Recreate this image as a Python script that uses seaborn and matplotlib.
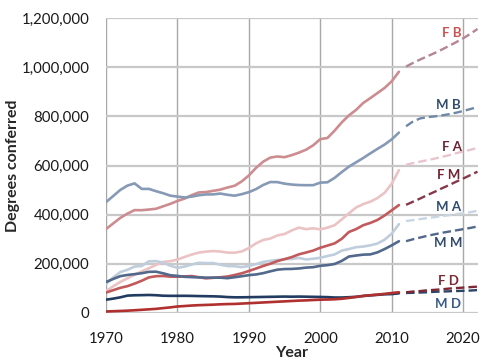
import numpy as np
import pandas as pd
import matplotlib
matplotlib.use('Agg')
import matplotlib.pyplot as plt
import seaborn as sns

# degrees conferred, thousands; x = end year of academic year
years = list(range(1970, 2012))
proj_years = list(range(2011, 2023))

m_bach = [451.1, 475.6, 500.6, 518.2, 527.3, 504.8, 504.9, 495.5, 487.3, 477.3,
          473.6, 469.9, 473.4, 479.1, 482.3, 482.5, 485.9, 480.8, 477.2, 483.3,
          491.7, 504.0, 520.8, 532.9, 532.4, 526.1, 522.5, 520.5, 520.0, 520.0,
          530.4, 531.8, 549.8, 573.3, 595.4, 613.0, 630.6, 649.6, 667.9, 685.4,
          706.7, 734.2]
f_bach = [341.2, 364.1, 386.7, 404.2, 418.5, 418.1, 420.8, 424.0, 433.9, 444.0,
          455.8, 465.3, 479.6, 490.4, 492.0, 496.9, 501.9, 510.5, 517.6, 535.4,
          559.6, 590.5, 615.7, 632.3, 636.9, 634.0, 642.3, 652.4, 664.5, 682.3,
          707.5, 712.3, 742.1, 775.6, 804.1, 826.3, 854.6, 874.5, 895.1, 916.0,
          943.1, 981.9]
m_assoc = [117.4, 144.1, 166.2, 175.4, 188.6, 191.0, 210.0, 210.8, 204.7, 192.1,
           183.7, 188.6, 196.9, 204.0, 202.7, 202.9, 196.2, 190.8, 190.0, 186.3,
           191.2, 198.6, 207.5, 212.0, 215.3, 218.4, 219.5, 223.9, 217.6, 220.5,
           224.7, 231.6, 238.1, 253.5, 260.0, 267.5, 270.1, 275.2, 282.5, 298.1,
           322.7, 361.3]
f_assoc = [88.6, 108.2, 125.8, 140.8, 155.3, 169.2, 181.5, 195.5, 207.5, 210.6,
           217.2, 227.7, 237.6, 245.6, 249.5, 251.8, 249.9, 245.5, 245.0, 250.4,
           263.9, 283.1, 296.8, 302.8, 315.4, 321.3, 335.7, 347.3, 340.9, 344.5,
           340.2, 347.2, 357.0, 380.6, 405.3, 429.1, 443.0, 452.9, 467.6, 489.1,
           526.1, 581.0]
m_mast = [125.6, 138.1, 149.6, 154.5, 157.8, 161.6, 167.2, 167.8, 161.2, 153.4,
          150.7, 147.0, 145.5, 144.7, 143.6, 143.4, 143.5, 141.3, 145.2, 149.4,
          153.7, 156.5, 161.8, 169.3, 176.1, 178.6, 179.1, 180.9, 184.4, 186.1,
          191.8, 194.4, 199.1, 211.7, 229.5, 233.6, 237.2, 238.2, 246.5, 260.0,
          275.2, 291.7]
f_mast = [82.7, 92.4, 102.1, 108.9, 119.2, 130.9, 144.5, 149.4, 150.4, 147.7,
          147.3, 148.7, 150.0, 145.2, 140.7, 142.9, 145.1, 148.1, 154.2, 161.3,
          170.6, 180.7, 191.0, 200.3, 211.0, 219.0, 227.2, 238.5, 245.8, 253.8,
          265.3, 274.1, 283.0, 301.7, 329.4, 341.0, 356.9, 366.4, 378.5, 396.8,
          417.8, 439.0]
m_doc = [53.8, 58.1, 63.4, 70.4, 71.8, 72.3, 73.0, 72.0, 70.0, 69.5,
         69.5, 69.6, 69.2, 68.5, 68.0, 67.5, 66.5, 64.5, 63.5, 63.5,
         64.0, 64.5, 65.0, 65.5, 66.0, 66.5, 66.0, 66.5, 66.0, 65.5,
         64.9, 64.2, 62.7, 62.7, 63.9, 65.5, 68.9, 71.3, 73.5, 75.7,
         76.6, 79.7]
f_doc = [5.7, 6.9, 7.9, 9.1, 10.8, 12.6, 14.5, 16.5, 19.5, 22.5,
         26.1, 28.0, 30.0, 31.5, 32.5, 33.5, 35.0, 36.0, 36.5, 38.0,
         39.5, 41.0, 42.5, 44.0, 45.5, 47.0, 48.5, 50.0, 51.0, 52.5,
         53.8, 54.5, 55.5, 57.5, 61.0, 65.0, 69.1, 72.0, 74.5, 77.5,
         81.0, 84.2]

# projections (dashed); 2011 left empty so the dashes start after a small gap
f_bach_p = [None, 1003, 1018, 1032, 1045, 1058, 1072, 1087, 1102, 1118, 1136, 1156]
m_bach_p = [None, 760, 780, 792, 797, 800, 804, 809, 815, 822, 830, 838]
f_assoc_p = [None, 603, 610, 616, 622, 628, 635, 642, 650, 657, 664, 672]
f_mast_p = [None, 440, 453, 466, 480, 493, 507, 520, 534, 547, 561, 575]
m_assoc_p = [None, 374, 378, 382, 386, 390, 394, 398, 402, 406, 410, 416]
m_mast_p = [None, 292, 300, 307, 314, 320, 326, 331, 336, 341, 346, 352]
f_doc_p = [None, 84, 87, 89, 92, 94, 96, 99, 101, 103, 105, 107]
m_doc_p = [None, 81, 82, 83, 84, 86, 87, 88, 89, 90, 91, 93]

series = [
    # name, actual, projected, solid colour, dashed colour, label colour, label pos
    ('F A', f_assoc, f_assoc_p, '#ebc3c4', '#e8c4cc', '#6e2232', (2018.4, 675)),
    ('M A', m_assoc, m_assoc_p, '#bfcddc', '#c8d6e4', '#2f4b70', (2017.9, 430)),
    ('F B', f_bach, f_bach_p, '#cc8c90', '#b48592', '#cf5050', (2018.4, 1141)),
    ('M B', m_bach, m_bach_p, '#8699b5', '#6f88a7', '#2f4b70', (2017.9, 848)),
    ('F M', f_mast, f_mast_p, '#c25a5c', '#86394a', '#6e2232', (2017.9, 560)),
    ('M M', m_mast, m_mast_p, '#52698b', '#52698b', '#2f4b70', (2017.9, 284)),
    ('M D', m_doc, m_doc_p, '#213c60', '#2c4566', '#3a5a85', (2017.9, 36)),
    ('F D', f_doc, f_doc_p, '#b0302f', '#7e2834', '#7a2a35', (2018.0, 130)),
]

sns.set_style('white')
plt.rcParams['font.family'] = ['Lato', 'DejaVu Sans']

fig = plt.figure(figsize=(5.0, 3.63), dpi=100)
ax = fig.add_axes([0.212, 0.138, 0.743, 0.812])

for name, act, proj, c_solid, c_dash, c_lab, (lx, ly) in series:
    df_a = pd.DataFrame({'year': years, 'value': np.array(act) * 1000})
    sns.lineplot(data=df_a, x='year', y='value', ax=ax, color=c_solid, lw=1.9)
    df_p = pd.DataFrame({'year': proj_years, 'value': proj}).dropna()
    df_p['value'] = df_p['value'].astype(float) * 1000
    sns.lineplot(data=df_p, x='year', y='value', ax=ax, color=c_dash, lw=1.7,
                 linestyle=(0, (3.6, 1.7)))
    ax.text(lx, ly * 1000, name, color=c_lab, fontsize=9.5, fontweight='bold',
            ha='center', va='center')

ax.set_xlim(1970, 2022)
ax.set_ylim(0, 1200000)
ax.set_xticks([1970, 1980, 1990, 2000, 2010, 2020])
ax.set_yticks(np.arange(0, 1200001, 200000))
ax.yaxis.set_major_formatter(matplotlib.ticker.FuncFormatter(lambda v, p: f'{int(v):,}'))
ax.tick_params(axis='both', labelsize=10.8, labelcolor='#1a1a1a', length=4,
               width=1, color='#b0b0b0')
ax.tick_params(axis='y', pad=8)
ax.tick_params(axis='x', pad=10)

ax.set_axisbelow(True)
ax.yaxis.grid(True, color='#c8c8c8', lw=1.6)
ax.xaxis.grid(True, color='#a8a8a8', lw=1.0)
for s in ax.spines.values():
    s.set_visible(False)

ax.set_xlabel('Year', fontsize=11.5, fontweight='bold', labelpad=0)
ax.set_ylabel('')
fig.text(13 / 500, 1 - 165.5 / 363, 'Degrees conferred', rotation=90,
         fontsize=11.5, fontweight='bold', ha='center', va='center')

fig.savefig('out.png', dpi=100)
